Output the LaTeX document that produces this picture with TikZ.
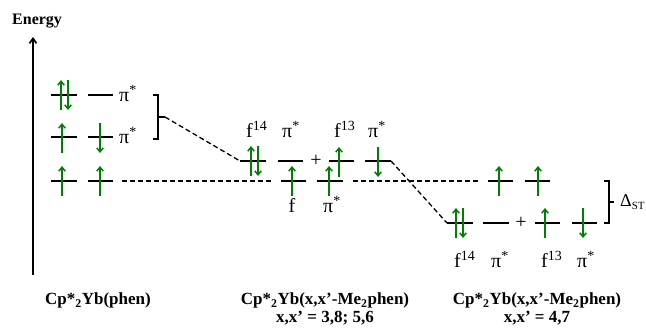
\documentclass[tikz,border=0pt]{standalone}
\usepackage{fontspec}
\setmainfont{Liberation Serif}
\usetikzlibrary{arrows.meta}
\definecolor{spingreen}{RGB}{0,128,0}
\newcommand\mklev[4]{\coordinate (#1-w) at (#2,#4); \coordinate (#1-e) at (#3,#4); \draw[lvl] (#1-w) -- (#1-e);}
\newcommand\spinup[2]{\draw[spin] (#1,#2+15) -- (#1,#2-15);}
\newcommand\spindn[2]{\draw[spin] (#1,#2-15) -- (#1,#2+15);}
\newcommand\pistar{π\textsuperscript{*}}
\begin{document}
\begin{tikzpicture}[x=1pt,y=-1pt,
 lvl/.style={line width=2.2pt},
 spin/.style={spingreen,line width=1.5pt,-{Straight Barb[length=4pt,width=6.5pt]}},
 dsh/.style={line width=1.3pt,dash pattern=on 5pt off 3pt},
 brk/.style={line width=1.4pt},
 lbl/.style={font=\fontsize{20}{20}\selectfont,inner sep=0pt},
 ttl/.style={font=\fontsize{17}{19}\selectfont\bfseries,inner sep=0pt},
]
\useasboundingbox (0,0) rectangle (646,331);
% axis
\coordinate (ax0) at (33,275);
\coordinate (ax1) at (33,37);
\draw[line width=1.6pt,-{Straight Barb[length=5pt,width=7pt]}] (ax0) -- (ax1);
\node[font=\fontsize{16}{16}\selectfont\bfseries,inner sep=0pt,anchor=base west] (energy) at (12,25) {Energy};
% left column
\mklev{L1a}{51}{77}{95} \mklev{L1b}{88}{113}{95}
\mklev{L2a}{51}{77}{137} \mklev{L2b}{88}{113}{137}
\mklev{L3a}{51}{77}{181} \mklev{L3b}{88}{113}{181}
\spinup{61}{95} \spindn{68}{95}
\spinup{62}{138} \spindn{100}{138}
\spinup{62}{181} \spinup{100}{181}
\node[lbl,anchor=base west] (pl1) at (119,102) {\pistar};
\node[lbl,anchor=base west] (pl2) at (119,144) {\pistar};
% left bracket
\draw[brk] (153,95) -- (158,95) -- (158,139) -- (153,139);
\coordinate (lb) at (165,117);
\draw[brk] (158,117) -- (lb);
% middle column
\mklev{M1a}{240}{266}{161} \mklev{M1b}{278}{303}{161}
\mklev{M1c}{329}{354}{161} \mklev{M1d}{365}{391}{161}
\mklev{M2a}{281}{306}{181} \mklev{M2b}{317}{343}{181}
\spinup{251}{161} \spindn{258}{161}
\spinup{339}{162} \spindn{378}{162}
\spinup{292}{181} \spinup{329}{181}
\node[lbl,anchor=base] (plus1) at (316,167) {+};
\node[lbl,anchor=base west] (mf14) at (246,138) {f\textsuperscript{14}};
\node[lbl,anchor=base west] (mp1) at (282,138) {\pistar};
\node[lbl,anchor=base west] (mf13) at (334,138) {f\textsuperscript{13}};
\node[lbl,anchor=base west] (mp2) at (368,138) {\pistar};
\node[lbl,anchor=base] (mf) at (292,213) {f};
\node[lbl,anchor=base west] (mp3) at (323,213) {\pistar};
% right column
\mklev{R1}{488}{513}{181} \mklev{R2}{525}{550}{181}
\spinup{499}{181} \spinup{538}{181}
\mklev{B1}{447}{473}{223} \mklev{B2}{483}{509}{223}
\mklev{B3}{535}{560}{223} \mklev{B4}{572}{597}{223}
\spinup{456}{223} \spindn{463}{223}
\spinup{545}{223} \spindn{583}{223}
\node[lbl,anchor=base] (plus2) at (521,229) {+};
\node[lbl,anchor=base west] (bf14) at (454,268) {f\textsuperscript{14}};
\node[lbl,anchor=base west] (bp1) at (491,268) {\pistar};
\node[lbl,anchor=base west] (bf13) at (541,268) {f\textsuperscript{13}};
\node[lbl,anchor=base west] (bp2) at (577,268) {\pistar};
% right bracket
\draw[brk] (604,181) -- (609,181) -- (609,223) -- (604,223);
\draw[brk] (609,202) -- (614,202);
\node[font=\fontsize{18}{18}\selectfont,inner sep=0pt,anchor=base west] (dst) at (620,207) {Δ\textsubscript{\fontsize{11}{11}\selectfont ST}};
% dashed connectors
\draw[dsh] (lb) -- (M1a-w);
\draw[dsh] (M1d-e) -- (B1-w);
\coordinate (d1a) at (122,181); \coordinate (d1b) at (273,181);
\coordinate (d2a) at (353,181); \coordinate (d2b) at (480,181);
\draw[dsh] (d1a) -- (d1b);
\draw[dsh] (d2a) -- (d2b);
% titles
\node[ttl,anchor=base] (t1) at (98,305) {Cp*\textsubscript{2}Yb(phen)};
\node[ttl,anchor=base] (t2) at (325,305) {Cp*\textsubscript{2}Yb(x,x’-Me\textsubscript{2}phen)};
\node[ttl,anchor=base] (t2b) at (325,323) {x,x’ = 3,8; 5,6};
\node[ttl,anchor=base] (t3) at (537,305) {Cp*\textsubscript{2}Yb(x,x’-Me\textsubscript{2}phen)};
\node[ttl,anchor=base] (t3b) at (537,323) {x,x’ = 4,7};
\end{tikzpicture}
\end{document}
